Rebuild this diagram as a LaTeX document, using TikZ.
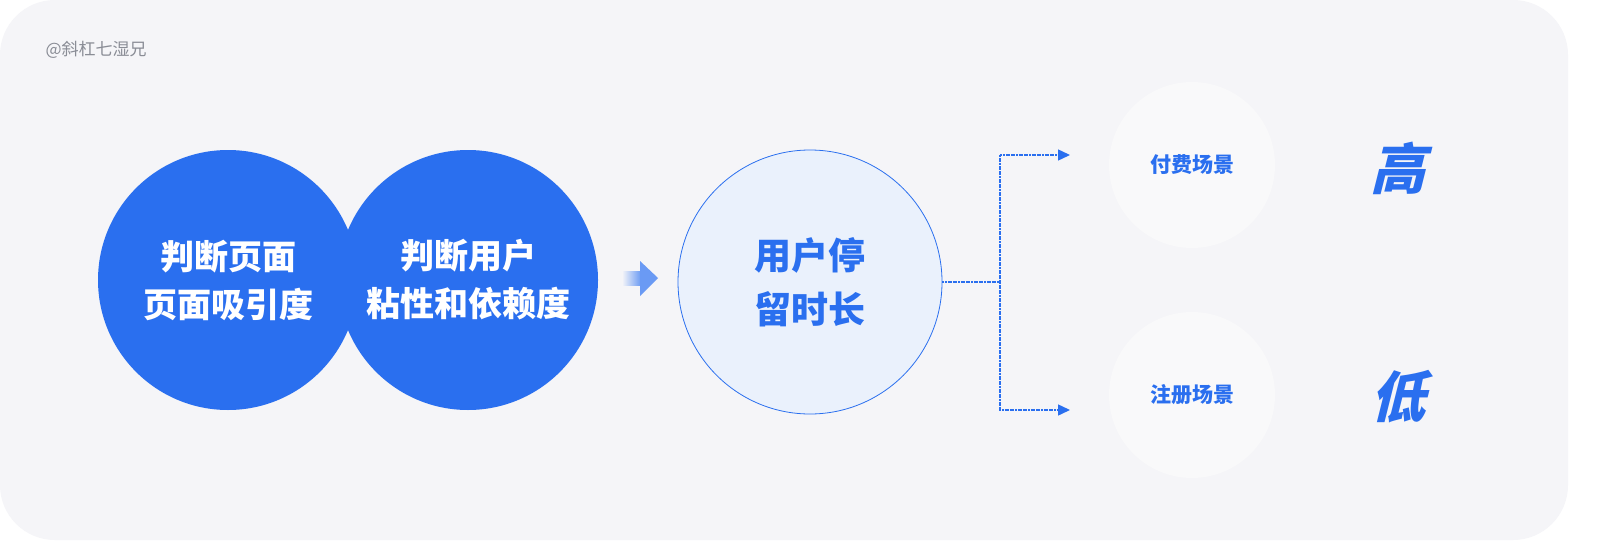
\documentclass[tikz,border=0pt]{standalone}
\usepackage{fontspec}
\setmainfont{Noto Sans CJK SC}
\newfontfamily\slcjk[FakeSlant=0.25]{Noto Sans CJK SC}
\usetikzlibrary{arrows.meta}
\definecolor{bblue}{HTML}{2A6FEF}
\definecolor{bg}{HTML}{F5F5F8}
\definecolor{lfill}{HTML}{EAF1FC}
\definecolor{wfill}{HTML}{F9F9FA}
\definecolor{wmgray}{HTML}{8A8D96}
\begin{document}
\begin{tikzpicture}[x=1pt,y=-1pt,
  bigc/.style={circle,fill=bblue,minimum size=260pt,inner sep=0pt,text=white,font=\bfseries\fontsize{34}{48}\selectfont,align=center},
  smallc/.style={circle,fill=wfill,minimum size=166pt,inner sep=0pt,text=bblue,font=\bfseries\fontsize{21}{24}\selectfont},
  lvl/.style={text=bblue,font=\slcjk\bfseries\fontsize{55}{55}\selectfont},
  conn/.style={bblue,dash pattern=on 2pt off 0.6pt,line width=1.4pt},
  tip/.style={-{Triangle[length=12pt,width=11pt]}}]
\useasboundingbox (0,0) rectangle (1600,551);
\fill[white] (0,0) rectangle (1600,551);
\fill[bg,rounded corners=55pt] (0,0) rectangle (1568,540);
\node[anchor=west,text=wmgray,font=\fontsize{17}{20}\selectfont] (wm) at (42,50) {@斜杠七湿兄};
\node[bigc] (c1) at (228,280) {判断页面\\页面吸引度};
\node[bigc] (c2) at (468,280) {判断用户\\粘性和依赖度};
\shade[left color=bg,right color=bblue!70] (622,271) rectangle (641,285);
\fill[bblue!70] (640,261) -- (658,278) -- (640,296) -- cycle;
\node[circle,fill=lfill,draw=bblue,line width=0.8pt,minimum size=264pt,inner sep=0pt,text=bblue,font=\bfseries\fontsize{37}{54}\selectfont,align=center] (m) at (810,282) {用户停\\留时长};
\node[smallc] (s1) at (1192,165) {付费场景};
\node[smallc] (s2) at (1192,395) {注册场景};
\node[lvl] (h) at (1398,168) {高};
\node[lvl] (l) at (1398,397) {低};
\coordinate (j) at (1000,282);
\coordinate (t1) at (1070,155);
\coordinate (t2) at (1070,410);
\draw[conn] (m.east) -- (j);
\draw[conn,tip] (j) |- (t1);
\draw[conn,tip] (j) |- (t2);
\end{tikzpicture}
\end{document}
